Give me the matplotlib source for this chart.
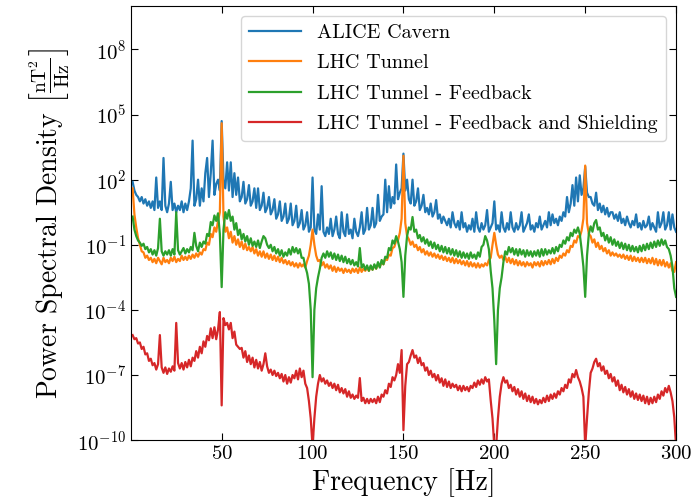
import numpy as np
import matplotlib
matplotlib.use("Agg")
import matplotlib.pyplot as plt
from matplotlib.ticker import NullLocator

plt.rcParams['font.family'] = 'serif'
plt.rcParams['font.serif'] = ['cmr10']
plt.rcParams['mathtext.fontset'] = 'cm'
plt.rcParams['axes.formatter.use_mathtext'] = True

# frequency bins, 1 Hz apart
freq = np.arange(1, 301)

# log10 of the PSD, one value per Hz
alice_log = [
    1.9, 1.5, 1.3, 1.2, 1.0, 1.2, 0.9, 1.1, 0.8, 1.0,
    0.7, 1.0, 0.6, 2.1, 0.7, 1.0, 0.6, 3.0, 0.8, 0.5,
    0.9, 1.9, 0.6, 0.9, 0.5, 0.8, 0.6, 1.0, 0.5, 0.9,
    0.6, 1.0, 1.6, 3.8, 0.8, 1.1, 2.0, 0.8, 1.6, 1.0,
    2.3, 3.0, 1.2, 2.3, 3.8, 1.3, 1.8, 2.0, 1.5, 4.7,
    2.0, 1.6, 2.8, 1.5, 2.8, 1.2, 2.3, 1.3, 2.1, 1.0,
    1.2, 1.9, 0.9, 1.1, 1.75, 0.8, 1.0, 1.6, 0.7, 1.6,
    0.6, 0.8, 1.4, 0.5, 0.7, 1.2, 0.4, 0.6, 1.1, 0.2,
    0.4, 1.0, 0.1, 0.3, 0.9, 0.0, 0.2, 0.9, -0.1, 0.1,
    0.8, -0.2, 0.0, 0.6, -0.3, -0.1, 0.5, -0.4, -0.2, 2.1,
    -0.3, -0.5, 0.4, -0.3, 1.7, -0.4, -0.6, -0.2, -0.5, 0.2,
    -0.6, -0.3, 0.3, -0.5, -0.7, 0.5, -0.4, -0.6, 0.4, -0.5,
    -0.3, -0.7, 0.2, -0.4, -0.6, -0.2, 0.5, -0.5, -0.3, 0.7,
    -0.3, -0.1, 0.7, -0.2, 0.0, 1.3, 0.1, 0.3, 0.4, 2.0,
    0.5, 1.7, 0.7, 1.2, 0.9, 2.7, 1.1, 1.4, 1.6, 3.2,
    1.5, 2.0, 1.1, 0.9, 2.0, 0.8, 1.0, 1.6, 0.6, 0.8,
    1.3, 0.5, 0.7, 0.4, 0.9, 0.3, 0.5, 1.06, 0.2, 0.4,
    0.0, 0.3, 0.1, -0.1, 0.2, -0.2, 0.5, 0.0, -0.2, 0.1,
    -0.3, 0.5, -0.2, 0.0, -0.4, -0.1, -0.3, 0.2, -0.4, 0.5,
    -0.2, -0.4, 0.0, -0.3, -0.1, 0.6, -0.4, -0.2, 0.0, 1.0,
    -0.3, -0.1, -0.4, 0.5, -0.2, -0.4, 0.0, -0.3, 0.5, -0.2,
    -0.4, 0.0, -0.3, -0.1, 0.5, -0.4, -0.2, 0.0, 0.4, -0.3,
    -0.1, -0.4, 0.0, -0.2, 0.3, -0.3, -0.1, 0.1, -0.2, 0.5,
    -0.1, 0.4, 0.0, 0.2, -0.1, 0.3, 0.1, 0.5, 0.3, 1.2,
    0.5, 0.9, 1.75, 0.8, 2.1, 1.0, 2.2, 1.3, 1.6, 2.6,
    1.4, 1.2, 1.2, 0.9, 0.8, 1.4, 0.6, 0.9, 0.5, 0.8,
    0.4, 0.7, 0.3, 0.5, 0.5, 0.2, 0.4, 0.1, 0.5, 0.0,
    0.2, -0.1, 0.3, 0.0, -0.2, 0.1, -0.1, 0.4, -0.2, 0.0,
    -0.3, 0.1, -0.2, -0.1, 0.3, -0.3, 0.0, -0.2, -0.4, 0.5,
    -0.2, 0.0, 0.5, -0.3, -0.1, 0.5, -0.3, 0.4, -0.2, -0.4,
]

tunnel_log = [
    1.6, 0.4, -0.2, -0.7, -1.0, -1.3, -1.35, -1.6, -1.5, -1.7,
    -1.6, -1.8, -1.65, -1.85, -1.6, -1.75, -1.9, -1.6, -1.8, -1.7,
    -1.85, -1.6, -1.75, -1.55, -1.8, -1.65, -1.75, -1.5, -1.7, -1.55,
    -1.7, -1.5, -1.65, -1.45, -1.6, -1.4, -1.55, -1.35, -1.45, -1.2,
    -1.25, -0.9, -1.0, -0.5, -0.65, -0.2, -0.4, 0.1, 0.5, 4.6,
    0.3, -0.4, -0.2, -0.7, -0.4, -0.9, -0.6, -1.0, -0.75, -1.1,
    -0.85, -1.2, -0.95, -1.25, -1.1, -1.3, -1.1, -1.4, -1.2, -1.5,
    -1.3, -1.55, -1.3, -1.6, -1.4, -1.65, -1.45, -1.7, -1.5, -1.75,
    -1.55, -1.8, -1.6, -1.85, -1.7, -1.9, -1.75, -1.95, -1.8, -2.0,
    -1.85, -2.05, -1.85, -2.0, -1.9, -2.05, -1.75, -1.5, -1.0, -0.3,
    -1.0, -1.5, -1.75, -1.7, -1.95, -1.8, -2.05, -1.9, -2.1, -1.95,
    -2.2, -2.0, -2.25, -2.05, -2.2, -2.1, -2.3, -2.1, -2.25, -2.15,
    -2.3, -2.1, -2.25, -2.1, -2.3, -2.05, -2.25, -2.1, -2.2, -2.05,
    -2.2, -2.0, -2.15, -1.95, -2.1, -1.9, -2.0, -1.8, -1.9, -1.65,
    -1.7, -1.45, -1.5, -1.15, -1.1, -0.8, -0.8, -0.45, 0.2, 3.1,
    0.0, -0.6, -0.75, -1.0, -0.85, -1.1, -1.0, -1.25, -1.1, -1.35,
    -1.2, -1.45, -1.3, -1.5, -1.35, -1.55, -1.4, -1.6, -1.45, -1.65,
    -1.5, -1.7, -1.55, -1.75, -1.6, -1.8, -1.6, -1.85, -1.65, -1.85,
    -1.7, -1.9, -1.75, -1.95, -1.75, -2.0, -1.8, -2.0, -1.85, -2.05,
    -1.85, -2.05, -1.9, -2.0, -1.85, -1.95, -1.7, -1.6, -1.0, -0.45,
    -1.0, -1.45, -1.6, -1.5, -1.7, -1.55, -1.8, -1.6, -1.85, -1.65,
    -1.9, -1.7, -1.95, -1.75, -1.95, -1.8, -2.0, -1.8, -1.95, -1.85,
    -2.05, -1.8, -1.95, -1.8, -2.0, -1.75, -1.95, -1.75, -1.9, -1.7,
    -1.9, -1.65, -1.85, -1.6, -1.75, -1.5, -1.6, -1.4, -1.5, -1.25,
    -1.35, -1.05, -1.1, -0.8, -0.9, -0.6, -0.65, -0.35, 0.2, 2.65,
    0.0, -0.5, -0.6, -0.9, -0.75, -1.1, -0.9, -1.2, -1.05, -1.3,
    -1.15, -1.4, -1.25, -1.5, -1.35, -1.5, -1.4, -1.55, -1.45, -1.6,
    -1.45, -1.65, -1.5, -1.7, -1.5, -1.75, -1.55, -1.75, -1.6, -1.8,
    -1.6, -1.8, -1.6, -1.85, -1.65, -1.85, -1.6, -1.9, -1.65, -1.95,
    -1.7, -1.95, -1.7, -2.0, -1.8, -2.05, -1.85, -2.2, -2.25, -1.8,
]

feedback_log = [
    0.3, -0.3, -0.6, -0.8, -0.9, -1.05, -0.95, -1.2, -1.1, -1.35,
    -1.2, -1.45, -1.25, -1.5, -1.15, 0.2, -1.3, -1.5, -1.3, -1.45,
    -1.25, -1.5, -1.2, -1.45, 0.5, -1.25, -1.45, -1.3, -1.15, -1.4,
    -1.2, -1.35, -1.1, -1.25, -0.45, -1.05, -1.3, -0.9, -1.1, -0.85,
    -0.95, -0.5, -0.6, 0.05, -0.1, 0.35, 0.1, 0.45, -0.5, -2.95,
    -0.3, 0.5, 0.2, 0.6, 0.1, 0.3, -0.3, 0.0, -0.55, -0.3,
    -0.75, -0.5, -0.85, -0.6, -1.0, -0.7, -1.05, -0.85, -1.1, -0.8,
    -1.15, -0.85, -0.6, -0.7, -1.0, -1.15, -1.0, -1.3, -1.1, -1.4,
    -1.2, -1.5, -1.25, -1.55, -1.35, -1.5, -1.2, -1.45, -1.1, -1.35,
    -1.15, -1.4, -1.2, -1.6, -1.6, -2.0, -2.3, -2.8, -4.0, -7.1,
    -4.0, -3.0, -2.5, -2.1, -1.6, -1.4, -1.6, -1.3, -1.55, -1.35,
    -1.65, -1.4, -1.7, -1.45, -1.75, -1.5, -1.8, -1.55, -1.85, -1.65,
    -1.9, -1.7, -1.95, -1.8, -2.0, -1.15, -2.05, -1.9, -2.15, -1.95,
    -2.2, -1.95, -2.15, -1.9, -2.1, -1.8, -2.05, -1.7, -1.9, -1.55,
    -1.6, -1.15, -1.25, -0.8, -0.95, -0.6, -0.85, -1.2, -1.8, -3.4,
    -1.5, -0.6, -0.2, -0.3, 0.28, -0.4, -0.3, -0.7, -0.55, -0.85,
    -0.65, -0.95, -0.75, -1.05, -0.85, -1.15, -0.9, -1.2, -1.0, -1.3,
    -1.05, -1.35, -1.1, -1.4, -1.15, -1.45, -1.2, -1.5, -1.25, -1.55,
    -1.3, -1.6, -1.35, -1.6, -1.4, -1.65, -1.35, -1.6, -1.45, -1.65,
    -1.35, -1.55, -1.1, -1.0, -0.6, -0.8, -1.2, -2.2, -3.0, -4.5,
    -6.5, -4.0, -3.0, -2.5, -1.8, -1.3, -1.45, -1.1, -1.35, -1.15,
    -1.45, -1.2, -1.5, -1.2, -1.45, -1.25, -1.55, -1.25, -1.5, -1.3,
    -1.55, -1.3, -1.5, -1.25, -1.55, -1.2, -1.5, -1.2, -1.45, -1.25,
    -1.4, -1.15, -1.4, -1.1, -1.3, -1.0, -1.1, -0.8, -0.95, -0.65,
    -0.8, -0.45, -0.6, -0.3, -0.45, -0.2, -0.5, -1.2, -2.0, -3.4,
    -1.5, -0.5, -0.15, -0.4, 0.0, 0.14, -0.3, -0.2, -0.6, -0.45,
    -0.8, -0.55, -0.9, -0.65, -1.0, -0.75, -1.05, -0.85, -1.15, -0.9,
    -1.2, -0.95, -1.25, -1.0, -1.3, -1.05, -1.3, -1.1, -1.35, -1.05,
    -1.3, -1.0, -1.25, -0.95, -1.2, -0.9, -1.15, -0.85, -1.1, -0.8,
    -1.05, -0.75, -1.0, -0.8, -1.1, -1.2, -1.5, -2.0, -3.0, -3.4,
]

shielding_log = [
    -5.16, -5.35, -5.3, -5.55, -5.5, -5.8, -5.7, -6.05, -6.0, -6.35,
    -6.25, -6.55, -6.45, -6.75, -6.5, -5.16, -6.65, -6.9, -6.65, -6.95,
    -6.7, -6.85, -6.6, -6.8, -4.6, -6.45, -6.7, -6.45, -6.75, -6.4,
    -6.65, -6.3, -6.6, -6.2, -6.35, -5.9, -6.2, -5.7, -6.0, -5.45,
    -5.7, -5.2, -5.4, -4.85, -5.3, -4.8, -5.35, -4.9, -4.1, -8.4,
    -4.38, -4.7, -4.6, -4.9, -4.6, -5.3, -5.0, -5.6, -5.7, -5.8,
    -5.75, -6.2, -5.9, -6.4, -6.1, -6.5, -6.2, -6.65, -6.3, -6.7,
    -6.4, -6.8, -6.5, -6.0, -6.6, -6.9, -6.75, -7.0, -6.8, -7.05,
    -6.9, -7.15, -6.95, -7.3, -7.0, -7.4, -7.1, -7.35, -7.0, -7.15,
    -6.8, -7.2, -6.7, -7.1, -6.8, -7.4, -7.6, -8.2, -9.0, -10.3,
    -9.0, -8.0, -7.4, -7.0, -7.3, -7.15, -7.4, -7.25, -7.5, -7.35,
    -7.6, -7.4, -7.7, -7.45, -7.8, -7.6, -7.85, -7.65, -8.0, -7.75,
    -8.05, -7.9, -8.1, -7.95, -8.05, -7.14, -8.2, -8.05, -8.3, -8.1,
    -8.3, -8.1, -8.25, -8.1, -8.3, -8.0, -8.25, -7.9, -8.0, -7.7,
    -7.85, -7.4, -7.55, -7.1, -7.25, -7.0, -6.5, -6.9, -5.85, -9.54,
    -7.5, -6.5, -6.4, -6.1, -5.85, -6.2, -6.1, -6.45, -6.2, -6.55,
    -6.45, -6.8, -6.65, -7.0, -6.8, -7.1, -6.95, -7.25, -7.0, -7.35,
    -7.15, -7.5, -7.2, -7.55, -7.3, -7.6, -7.4, -7.56, -7.45, -7.7,
    -7.5, -7.75, -7.5, -7.7, -7.55, -7.75, -7.5, -7.6, -7.35, -7.55,
    -7.25, -7.45, -7.2, -7.4, -7.1, -7.3, -7.2, -8.16, -9.0, -10.3,
    -10.3, -9.0, -8.0, -7.4, -7.1, -7.35, -7.25, -7.6, -7.45, -7.75,
    -7.55, -7.9, -7.65, -8.0, -7.75, -8.1, -7.85, -8.2, -7.95, -8.25,
    -8.0, -8.3, -8.1, -8.35, -8.15, -8.3, -8.05, -8.25, -7.95, -8.2,
    -7.9, -8.1, -7.85, -8.05, -7.75, -7.9, -7.6, -7.75, -7.45, -7.6,
    -7.2, -7.35, -6.95, -7.1, -6.77, -7.1, -7.3, -7.6, -8.0, -10.3,
    -9.0, -7.8, -6.9, -6.7, -6.4, -6.25, -6.6, -6.45, -6.8, -6.6,
    -6.95, -6.8, -7.15, -6.95, -7.3, -7.1, -7.5, -7.25, -7.7, -7.45,
    -7.8, -7.55, -7.9, -7.65, -8.0, -7.75, -8.1, -7.85, -8.15, -7.9,
    -8.2, -7.95, -8.3, -8.0, -8.35, -8.05, -8.3, -8.0, -8.25, -7.9,
    -8.1, -7.75, -7.95, -7.6, -7.8, -7.5, -7.8, -8.2, -8.94, -10.3,
]

labels = ["ALICE Cavern", "LHC Tunnel", "LHC Tunnel - Feedback",
          "LHC Tunnel - Feedback and Shielding"]
series = [alice_log, tunnel_log, feedback_log, shielding_log]
colors = ["C0", "C1", "C2", "C3"]

fig = plt.figure(figsize=(6.92, 5.03), dpi=100)
ax = fig.add_axes([0.189, 0.125, 0.788, 0.863])

for vals, lab, c in zip(series, labels, colors):
    ax.plot(freq, 10.0 ** np.array(vals), color=c, lw=1.6, label=lab)

ax.set_yscale('log')
ax.set_xlim(0, 300)
ax.set_ylim(1e-10, 1e10)
ax.set_xticks([50, 100, 150, 200, 250, 300])
ax.set_yticks([1e-10, 1e-7, 1e-4, 1e-1, 1e2, 1e5, 1e8])
ax.yaxis.set_minor_locator(NullLocator())
ax.tick_params(direction='in', top=True, right=True, labelsize=15, length=5)

ax.set_xlabel("Frequency [Hz]", fontsize=20)
ax.set_ylabel(r"Power Spectral Density $\left[\frac{\mathrm{nT}^2}{\mathrm{Hz}}\right]$", fontsize=20)

ax.legend(loc='upper right', fontsize=14.5, handlelength=2.6, labelspacing=0.6)

fig.savefig("out.png", dpi=100)
